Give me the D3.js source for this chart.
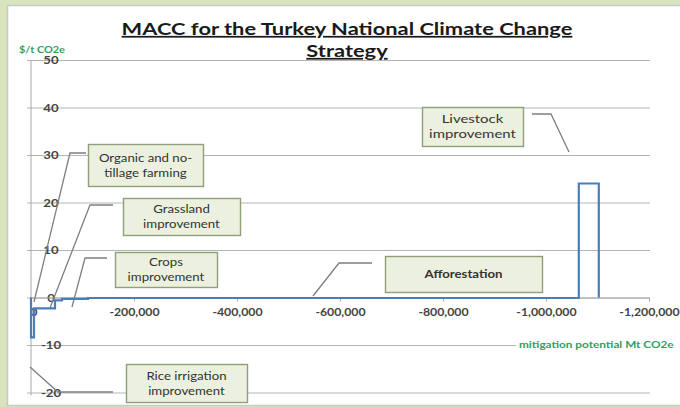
<!DOCTYPE html>
<html>
<head>
<meta charset="utf-8">
<script src="https://cdn.jsdelivr.net/npm/d3@7"></script>
<style>
  html, body { margin: 0; padding: 0; background: #d7e4bd; }
  svg { display: block; }
</style>
</head>
<body>
<svg id="chart" width="680" height="407"></svg>
<script>
// Abatement measures in merit order (cheapest first)
const measures = [
  "Rice irrigation improvement",
  "Organic and no-tillage farming",
  "Grassland improvement",
  "Crops improvement",
  "Afforestation",
  "Livestock improvement"
];
// Mitigation potential of each measure (t CO2e, plotted leftwards as negative)
const potential = [5800, 40800, 13600, 50500, 953000, 38800];
// Marginal abatement cost ($/t CO2e)
const cost = [-8.4, -2.3, -0.6, -0.3, -0.1, 24];

const xTicks = [0, -200000, -400000, -600000, -800000, -1000000, -1200000];
const yTicks = [-20, -10, 0, 10, 20, 30, 40, 50];

const titleLines = ["MACC for the Turkey National Climate Change", "Strategy"];
const yTitle = "$/t CO2e";
const xTitle = "mitigation potential Mt CO2e";

// Callout boxes (text lines) and their leader lines, in page pixels
const callouts = [
  { name: "Organic and no-tillage farming", lines: ["Organic and no-", "tillage farming"],
    box: [88, 144, 115, 42], leader: [[86, 153], [70, 153], [34, 302]] },
  { name: "Grassland improvement", lines: ["Grassland", "improvement"],
    box: [123, 198, 117, 37], leader: [[113, 205], [90, 205], [50, 308]] },
  { name: "Crops improvement", lines: ["Crops", "improvement"],
    box: [115, 252, 102, 35], leader: [[107, 258], [85, 258], [72, 307]] },
  { name: "Afforestation", lines: ["Afforestation"], bold: true,
    box: [385, 256, 157, 36], leader: [[372, 263], [339, 263], [313, 296]] },
  { name: "Livestock improvement", lines: ["Livestock", "improvement"], wide: true,
    box: [422, 107, 101, 39], leader: [[532, 114], [551, 114], [569, 152]] },
  { name: "Rice irrigation improvement", lines: ["Rice irrigation", "improvement"],
    box: [126, 364, 121, 38], leader: [[113, 392], [58, 392], [30, 367]] }
];

const FONT = "Lato, 'Open Sans', sans-serif";
const svg = d3.select("#chart");

// Widen a text element horizontally around its own anchor x
function stretch(sel, sx) {
  sel.each(function () {
    const t = d3.select(this);
    const ax = +t.attr("x") || 0;
    const prev = t.attr("transform") || "";
    t.attr("transform", `${prev} translate(${ax},0) scale(${sx},1) translate(${-ax},0)`);
  });
}

// Slide panel
svg.append("rect").attr("x", 7.5).attr("y", 5.5).attr("width", 680).attr("height", 400)
  .attr("fill", "#ffffff").attr("stroke", "#c8c8c8").attr("stroke-width", 1.5);

const x = d3.scaleLinear().domain([0, -1200000]).range([31, 649]);
const y = d3.scaleLinear().domain([-20, 50]).range([392.5, 60]);

const loc = d3.formatLocale({ decimal: ".", thousands: ",", grouping: [3], currency: ["$", ""], minus: "-" });
const fmtX = loc.format(",");
const fmtY = loc.format("d");

// Horizontal gridlines with value labels sitting on them
const yAxis = svg.append("g")
  .attr("transform", `translate(27,0)`)
  .call(d3.axisRight(y).tickValues(yTicks).tickSize(623).tickFormat(fmtY));
yAxis.select(".domain").remove();
yAxis.selectAll(".tick line").attr("stroke", "#b4b4b4").attr("stroke-width", 1);
yAxis.selectAll(".tick text")
  .attr("x", 24).attr("dy", "0.35em").attr("text-anchor", "middle")
  .attr("fill", "#444444").attr("font-family", FONT).attr("font-size", 11).attr("font-weight", 700)
  .call(stretch, 1.2);

// Vertical value axis line
svg.append("line").attr("x1", x(0)).attr("x2", x(0)).attr("y1", y(50)).attr("y2", y(-20) + 3)
  .attr("stroke", "#a8a8a8").attr("stroke-width", 1);

// Horizontal axis on the zero line
const xAxis = svg.append("g")
  .attr("transform", `translate(0,${y(0)})`)
  .call(d3.axisBottom(x).tickValues(xTicks).tickSize(4).tickPadding(7).tickFormat(fmtX));
xAxis.select(".domain").attr("stroke", "#a8a8a8");
xAxis.selectAll(".tick line").attr("stroke", "#a8a8a8");
xAxis.selectAll(".tick text")
  .attr("fill", "#444444").attr("font-family", FONT).attr("font-size", 11).attr("font-weight", 700)
  .call(stretch, 1.12);
xAxis.selectAll(".tick").filter(d => d === 0).select("text").attr("dx", 2);

// Leader lines
svg.append("g").selectAll("path").data(callouts).join("path")
  .attr("d", d => d3.line()(d.leader))
  .attr("fill", "none").attr("stroke", "#7f7f7f").attr("stroke-width", 1.3);

// Cost curve as a stepped outline
const pts = [[0, 0]];
let cum = 0;
cost.forEach((c, i) => {
  pts.push([-cum, c]);
  cum += potential[i];
  pts.push([-cum, c]);
});
pts.push([-cum, 0]);
svg.append("path")
  .attr("d", d3.line().x(d => x(d[0])).y(d => y(d[1]))(pts))
  .attr("fill", "none").attr("stroke", "#4a7ebb").attr("stroke-width", 2.2)
  .attr("stroke-linejoin", "miter");

// Callout boxes
const cg = svg.append("g").selectAll("g").data(callouts).join("g");
cg.append("rect")
  .attr("x", d => d.box[0] + 0.5).attr("y", d => d.box[1] + 0.5)
  .attr("width", d => d.box[2]).attr("height", d => d.box[3])
  .attr("fill", "#ebf1de").attr("stroke", "#8f9f7a").attr("stroke-width", 1.4);
cg.each(function (d) {
  const g = d3.select(this);
  const cx = d.box[0] + d.box[2] / 2;
  const lh = 15;
  const top = d.box[1] + d.box[3] / 2 - (d.lines.length - 1) * lh / 2;
  d.lines.forEach((t, i) => {
    g.append("text").attr("x", cx).attr("y", top + i * lh).attr("dy", "0.35em")
      .attr("text-anchor", "middle").attr("font-family", FONT)
      .attr("font-size", 11.5).attr("font-weight", d.bold ? 700 : 400)
      .attr("fill", "#333333").text(t)
      .call(stretch, d.wide ? 1.3 : 1.15);
  });
});

// Axis titles
svg.append("text").attr("x", 19).attr("y", 53).attr("font-family", FONT)
  .attr("font-size", 9.5).attr("font-weight", 700).attr("fill", "#2f9e62").text(yTitle)
  .call(stretch, 1.15);
const xtStretch = 1.24;
const xt = svg.append("text").attr("x", 519).attr("y", y(-10)).attr("dy", "0.35em")
  .attr("font-family", FONT).attr("font-size", 9.5).attr("font-weight", 700)
  .attr("fill", "#2f9e62").text(xTitle)
  .call(stretch, xtStretch);
const bb = xt.node().getBBox();
svg.insert("rect", () => xt.node()).attr("x", bb.x - 3).attr("y", bb.y).attr("width", bb.width * xtStretch + 6)
  .attr("height", bb.height).attr("fill", "#ffffff");

// Title
const title = svg.append("g");
titleLines.forEach((t, i) => {
  title.append("text").attr("x", 347).attr("y", 35 + i * 22)
    .attr("text-anchor", "middle").attr("font-family", FONT)
    .attr("font-size", 17.5).attr("font-weight", 700).attr("fill", "#1a1a1a")
    .style("text-decoration", "underline").text(t)
    .call(stretch, 1.25);
});
</script>
</body>
</html>
